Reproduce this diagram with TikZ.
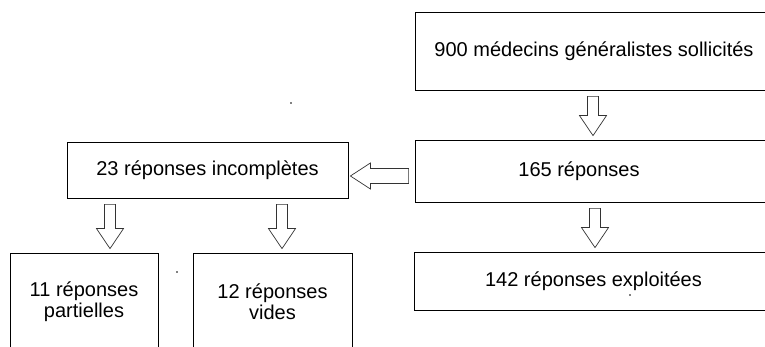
\documentclass[tikz,border=0pt]{standalone}
\usepackage{fontspec}
\setmainfont{Liberation Sans}
\usetikzlibrary{calc}

\tikzset{
  box/.style={draw, line width=0.8pt, inner sep=0pt, align=center,
    font=\fontsize{20}{21}\selectfont},
  hollow/.style={draw=black!80, line width=0.7pt, fill=white}
}

% hollow arrow going down at x, from one box to the box below
\newcommand{\downblock}[3]{%
  \draw[hollow] let \p1=(#2.south), \p2=(#3.north) in
    (#1-5.5,\y1-6) -- (#1-5.5,\y2+24) -- (#1-13.5,\y2+24) -- (#1,\y2+4)
    -- (#1+13.5,\y2+24) -- (#1+5.5,\y2+24) -- (#1+5.5,\y1-6) -- cycle;}

% hollow arrow going left at y, from one box to the box on its left
\newcommand{\leftblock}[3]{%
  \draw[hollow] let \p1=(#2.west), \p2=(#3.east) in
    (\x1-6,#1+7.5) -- (\x2+22,#1+7.5) -- (\x2+22,#1+13) -- (\x2+2,#1)
    -- (\x2+22,#1-13) -- (\x2+22,#1-7.5) -- (\x1-6,#1-7.5) -- cycle;}

\begin{document}
\begin{tikzpicture}[x=1pt,y=1pt]
  \useasboundingbox (0,0) rectangle (765,347);

  % right column
  \node[box, minimum width=358, minimum height=78] (sollicites) at (594,296) {900 médecins généralistes sollicités};
  \node[box, minimum width=358, minimum height=62] (reponses) at (594,176) {\kern-30pt 165 réponses};
  \node[box, minimum width=359, minimum height=58] (exploitees) at (593.5,66) {142 réponses exploitées};

  % left part
  \node[box, minimum width=281, minimum height=56] (incompletes) at (207.5,177) {23 réponses incomplètes};
  \node[box, minimum width=148, minimum height=98] (partielles) at (84,45) {11 réponses\\partielles};
  \node[box, minimum width=159, minimum height=98] (vides) at (272.5,45) {12 réponses\\vides};

  % arrows
  \downblock{593}{sollicites}{reponses}
  \downblock{595}{reponses}{exploitees}
  \leftblock{171}{reponses}{incompletes}
  \downblock{110}{incompletes}{partielles}
  \downblock{282}{incompletes}{vides}

  % stray dots
  \fill (291,244) circle (0.8);
  \fill (177,75) circle (0.8);
  \fill (630,52) circle (0.8);
\end{tikzpicture}
\end{document}
